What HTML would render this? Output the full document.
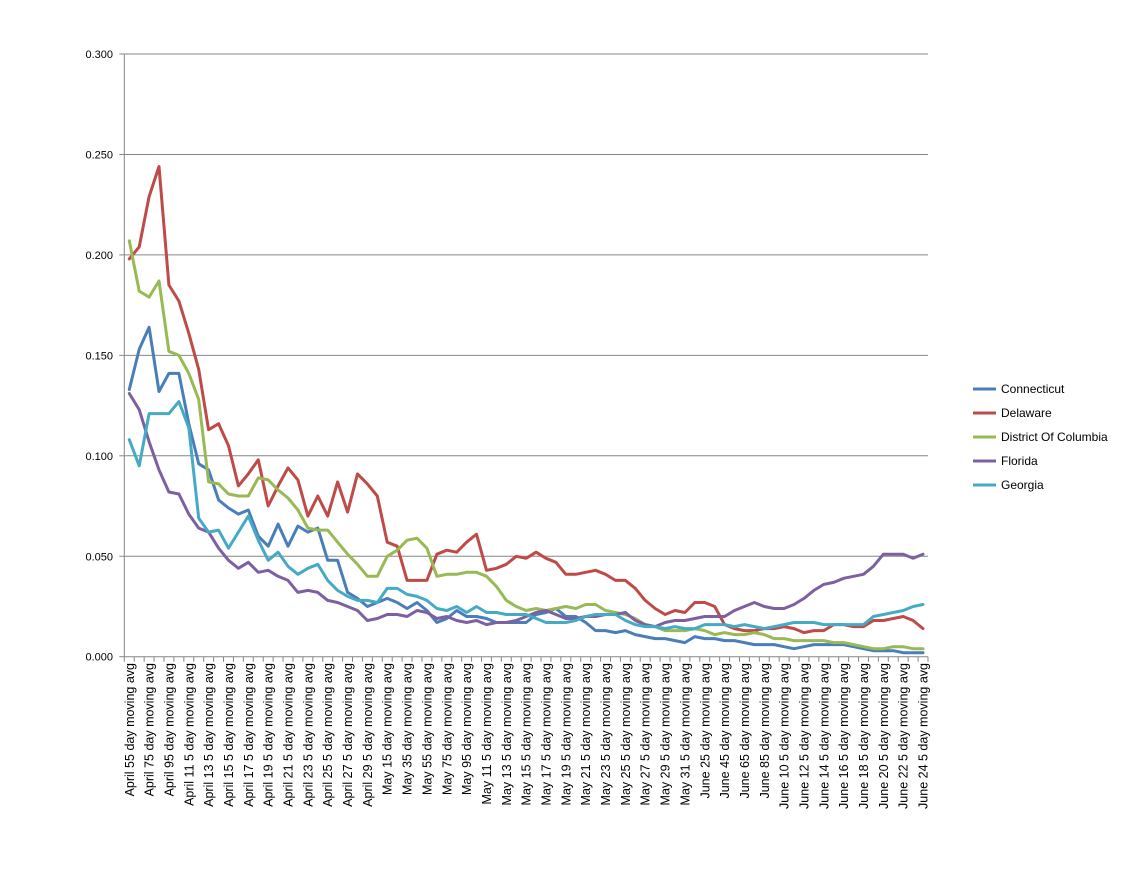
<!DOCTYPE html>
<html><head><meta charset="utf-8"><style>
body{margin:0;background:#fff;font-family:"Liberation Sans",sans-serif;}
svg text{font-family:"Liberation Sans",sans-serif;font-size:11px;fill:#000;}
svg text.xl{font-size:12.5px;}
svg text.lg{font-size:12px;}
</style></head><body>
<svg id="chart" width="1122" height="864" xmlns="http://www.w3.org/2000/svg">
<g id="grid"></g><g id="axes"></g><g id="series"></g><g id="legend"></g>
</svg>
<script>
const yTicks=[0,0.05,0.1,0.15,0.2,0.25,0.3];
const yTickLabels=["0.000","0.050","0.100","0.150","0.200","0.250","0.300"];
const seriesNames=["Connecticut","Delaware","District Of Columbia","Florida","Georgia"];
const seriesColors=["#4a7ebb","#be4b48","#98b954","#7d60a0","#46aac5"];
const connecticut=[0.133,0.153,0.164,0.132,0.141,0.141,0.116,0.096,0.093,0.078,0.074,0.071,0.073,0.060,0.055,0.066,0.055,0.065,0.062,0.064,0.048,0.048,0.032,0.029,0.025,0.027,0.029,0.027,0.024,0.027,0.023,0.017,0.019,0.023,0.020,0.020,0.019,0.017,0.017,0.017,0.017,0.021,0.022,0.024,0.020,0.020,0.017,0.013,0.013,0.012,0.013,0.011,0.010,0.009,0.009,0.008,0.007,0.010,0.009,0.009,0.008,0.008,0.007,0.006,0.006,0.006,0.005,0.004,0.005,0.006,0.006,0.006,0.006,0.005,0.004,0.003,0.003,0.003,0.002,0.002,0.002];
const delaware=[0.198,0.204,0.229,0.244,0.185,0.177,0.161,0.143,0.113,0.116,0.105,0.085,0.091,0.098,0.075,0.085,0.094,0.088,0.070,0.080,0.070,0.087,0.072,0.091,0.086,0.080,0.057,0.055,0.038,0.038,0.038,0.051,0.053,0.052,0.057,0.061,0.043,0.044,0.046,0.050,0.049,0.052,0.049,0.047,0.041,0.041,0.042,0.043,0.041,0.038,0.038,0.034,0.028,0.024,0.021,0.023,0.022,0.027,0.027,0.025,0.016,0.014,0.013,0.013,0.014,0.014,0.015,0.014,0.012,0.013,0.013,0.016,0.016,0.015,0.015,0.018,0.018,0.019,0.020,0.018,0.014];
const dc=[0.207,0.182,0.179,0.187,0.152,0.150,0.141,0.128,0.087,0.086,0.081,0.080,0.080,0.089,0.088,0.083,0.079,0.073,0.064,0.063,0.063,0.057,0.051,0.046,0.040,0.040,0.050,0.053,0.058,0.059,0.054,0.040,0.041,0.041,0.042,0.042,0.040,0.035,0.028,0.025,0.023,0.024,0.023,0.024,0.025,0.024,0.026,0.026,0.023,0.022,0.021,0.019,0.016,0.015,0.013,0.013,0.013,0.014,0.013,0.011,0.012,0.011,0.011,0.012,0.011,0.009,0.009,0.008,0.008,0.008,0.008,0.007,0.007,0.006,0.005,0.004,0.004,0.005,0.005,0.004,0.004];
const florida=[0.131,0.123,0.107,0.093,0.082,0.081,0.071,0.064,0.062,0.054,0.048,0.044,0.047,0.042,0.043,0.040,0.038,0.032,0.033,0.032,0.028,0.027,0.025,0.023,0.018,0.019,0.021,0.021,0.020,0.023,0.022,0.019,0.020,0.018,0.017,0.018,0.016,0.017,0.017,0.018,0.020,0.022,0.023,0.021,0.019,0.019,0.020,0.020,0.021,0.021,0.022,0.018,0.016,0.015,0.017,0.018,0.018,0.019,0.020,0.020,0.020,0.023,0.025,0.027,0.025,0.024,0.024,0.026,0.029,0.033,0.036,0.037,0.039,0.040,0.041,0.045,0.051,0.051,0.051,0.049,0.051];
const georgia=[0.108,0.095,0.121,0.121,0.121,0.127,0.114,0.069,0.062,0.063,0.054,0.062,0.070,0.058,0.048,0.052,0.045,0.041,0.044,0.046,0.038,0.033,0.030,0.028,0.028,0.027,0.034,0.034,0.031,0.030,0.028,0.024,0.023,0.025,0.022,0.025,0.022,0.022,0.021,0.021,0.021,0.019,0.017,0.017,0.017,0.018,0.020,0.021,0.021,0.021,0.018,0.016,0.015,0.015,0.014,0.015,0.014,0.014,0.016,0.016,0.016,0.015,0.016,0.015,0.014,0.015,0.016,0.017,0.017,0.017,0.016,0.016,0.016,0.016,0.016,0.020,0.021,0.022,0.023,0.025,0.026];
const seriesValues=[connecticut,delaware,dc,florida,georgia];
const categories=[];
(function(){const m=[["April",5,30],["May",1,31],["June",1,24]];for(const [n,s,e] of m)for(let d=s;d<=e;d++)categories.push(n+" "+d+(d>=10?" ":""));})();

const NS="http://www.w3.org/2000/svg";
const X0=124.3,X1=928,Y0=656.7,Y1=54;
const step=(X1-X0)/categories.length;
function xPos(i){return X0+step*(i+0.5);}
function yPos(v){return Y0-(v/0.3)*(Y0-Y1);}
function mk(tag,attrs,parent){const e=document.createElementNS(NS,tag);for(const k in attrs)e.setAttribute(k,attrs[k]);parent.appendChild(e);return e;}
const grid=document.getElementById('grid'),axes=document.getElementById('axes'),ser=document.getElementById('series'),leg=document.getElementById('legend');
yTicks.forEach((t,i)=>{
  const y=yPos(t);
  if(t>0){const l=mk('line',{x1:X0,x2:X1,y1:y,y2:y,stroke:'#868686','stroke-width':1},grid);
  
  }
  const tk=mk('line',{x1:X0-5,x2:X0,y1:y,y2:y,stroke:'#868686'},axes);
  
  
  const tx=mk('text',{x:113,y:y+4,'text-anchor':'end'},axes);tx.textContent=yTickLabels[i];
  
  
});
const ya=mk('line',{x1:X0,x2:X0,y1:Y1,y2:Y0,stroke:'#868686'},axes);


const xa=mk('line',{x1:X0,x2:X1,y1:Y0,y2:Y0,stroke:'#868686'},axes);


for(let i=0;i<=categories.length;i++){
  const x=X0+step*i;
  const t=mk('line',{x1:x,x2:x,y1:Y0,y2:Y0+5,stroke:'#868686'},axes);
  
  
}
categories.forEach((c,i)=>{
  if(i%2)return;
  const x=xPos(i)+4.5;
  const t=mk('text',{x:x,y:663,'text-anchor':'end','class':'xl',transform:`rotate(-90 ${x} 663)`},axes);
  t.textContent=c+"5 day moving avg";
  
  
});
seriesValues.forEach((vals,s)=>{
  const pts=vals.map((v,i)=>xPos(i).toFixed(1)+","+yPos(v).toFixed(1)).join(" ");
  const p=mk('polyline',{points:pts,fill:'none',stroke:seriesColors[s],'stroke-width':3,'stroke-linejoin':'round','stroke-linecap':'round'},ser);
  
  
  const ly=389+s*24;
  const g=mk('g',{},leg);
  
  
  mk('line',{x1:973,x2:996,y1:ly,y2:ly,stroke:seriesColors[s],'stroke-width':3},g);
  const t=mk('text',{x:1001,y:ly+4,'class':'lg'},g);t.textContent=seriesNames[s];
});
</script>
</body></html>
